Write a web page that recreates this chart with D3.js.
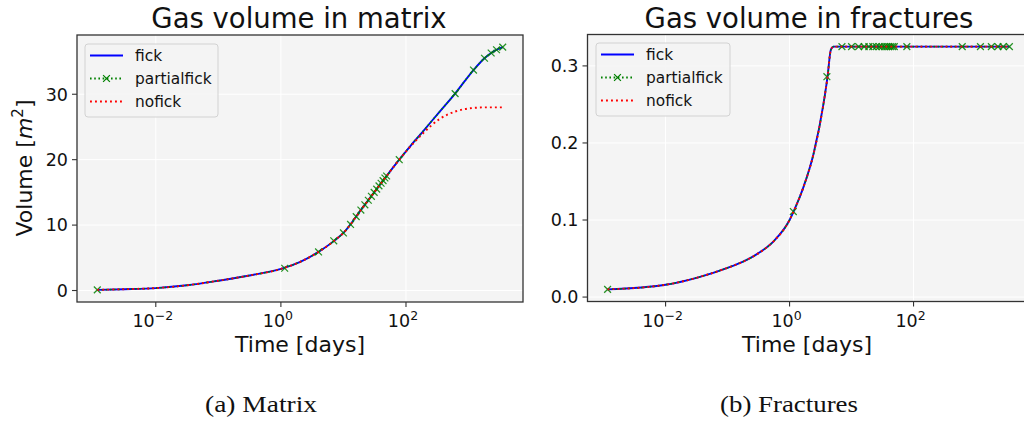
<!DOCTYPE html>
<html><head><meta charset="utf-8">
<script src="https://cdn.jsdelivr.net/npm/d3@7"></script>
<style>body{margin:0;background:#fff}svg{display:block}</style>
</head><body><svg id="c" width="1024" height="422"></svg>
<script>
// ---------- data (time in days) ----------
const matrixFickT   = [0.00116, 0.00316, 0.01, 0.0316, 0.1, 0.316, 1, 2, 4, 7, 10, 20, 40, 78, 120, 186, 343, 610, 1200, 1800, 2300, 2800, 3520];
const matrixFickV   = [0.1, 0.2, 0.37, 0.8, 1.5, 2.3, 3.3, 4.35, 5.9, 7.55, 8.8, 12.6, 16.4, 20.0, 22.2, 24.3, 27.3, 30.1, 33.7, 35.5, 36.3, 36.8, 37.2];
const matrixNofickT = [0.00116, 0.00316, 0.01, 0.0316, 0.1, 0.316, 1, 2, 4, 7, 10, 20, 40, 78, 120, 186, 343, 631, 1175, 2000, 3520];
const matrixNofickV = [0.1, 0.2, 0.37, 0.8, 1.5, 2.3, 3.3, 4.35, 5.9, 7.55, 8.8, 12.6, 16.4, 20.0, 22.1, 24.0, 26.2, 27.4, 27.9, 28.0, 28.0];
const partialT      = [0.00116, 1.15, 4, 7, 10, 13, 16, 19, 22, 25, 28, 31, 34, 37, 40, 43, 46, 49, 78, 610, 1200, 1800, 2300, 2800, 3520];
const matrixPartialV= [0.1, 3.4, 5.9, 7.6, 8.8, 10.1, 11.3, 12.3, 13.1, 13.8, 14.4, 15.0, 15.5, 16.0, 16.4, 16.8, 17.2, 17.5, 20.0, 30.1, 33.7, 35.5, 36.3, 36.8, 37.2];

const fracFickT     = [0.00116, 0.01, 0.0316, 0.1, 0.178, 0.316, 0.562, 1, 1.16, 1.68, 2.44, 3.53, 4.1, 4.64, 5.13, 7, 3520];
const fracFickV     = [0.010, 0.016, 0.025, 0.038, 0.046, 0.057, 0.073, 0.100, 0.111, 0.143, 0.186, 0.251, 0.286, 0.321, 0.325, 0.325, 0.325];
const fracNofickT   = [0.00116, 0.01, 0.0316, 0.1, 0.178, 0.316, 0.562, 1, 1.16, 1.68, 2.44, 3.53, 4.1, 4.64, 5.13, 7, 3520];
const fracNofickV   = [0.010, 0.016, 0.025, 0.038, 0.046, 0.057, 0.073, 0.100, 0.111, 0.143, 0.186, 0.251, 0.286, 0.321, 0.325, 0.325, 0.325];
const fracPartialV  = [0.010, 0.111, 0.286, 0.325, 0.325, 0.325, 0.325, 0.325, 0.325, 0.325, 0.325, 0.325, 0.325, 0.325, 0.325, 0.325, 0.325, 0.325, 0.325, 0.325, 0.325, 0.325, 0.325, 0.325, 0.325];

const xTicks = [0.01, 1, 100];
const xTickExp = ["\u22122", "0", "2"];
const matrixYTicks = [0, 10, 20, 30];
const matrixYLabels = ["0", "10", "20", "30"];
const fracYTicks = [0, 0.1, 0.2, 0.3];
const fracYLabels = ["0.0", "0.1", "0.2", "0.3"];
const seriesNames = ["fick", "partialfick", "nofick"];
const titles = ["Gas volume in matrix", "Gas volume in fractures"];
const captions = ["(a) Matrix", "(b) Fractures"];

// ---------- drawing ----------
const svg = d3.select("#c");
const FONT = "'DejaVu Sans', sans-serif";
const zip = (t, v) => t.map((d, i) => ({t: d, v: v[i]}));

function pad(ext, log) {
  if (log) { const a = Math.log10(ext[0]), b = Math.log10(ext[1]), p = (b - a) * 0.05; return [Math.pow(10, a - p), Math.pow(10, b + p)]; }
  const p = (ext[1] - ext[0]) * 0.05; return [ext[0] - p, ext[1] + p];
}

function panel(cfg, idx) {
  const {x0, x1, y0, y1} = cfg;
  const allT = cfg.series.flatMap(s => s.t);
  const allV = cfg.series.flatMap(s => s.v);
  const x = d3.scaleLog().domain(pad(d3.extent(allT), true)).range([x0, x1]);
  const y = d3.scaleLinear().domain(pad(d3.extent(allV), false)).range([y1, y0]);
  const g = svg.append("g");
  const clipId = "clip" + idx;
  svg.append("clipPath").attr("id", clipId).append("rect")
    .attr("x", x0).attr("y", y0).attr("width", x1 - x0).attr("height", y1 - y0);

  g.append("rect").attr("x", x0).attr("y", y0).attr("width", x1 - x0).attr("height", y1 - y0).attr("fill", "#f4f4f4");
  g.selectAll(".gx").data(xTicks).join("line").attr("x1", d => x(d)).attr("x2", d => x(d))
    .attr("y1", y0).attr("y2", y1).attr("stroke", "#fff").attr("stroke-width", 1);
  g.selectAll(".gy").data(cfg.yTicks).join("line").attr("y1", d => y(d)).attr("y2", d => y(d))
    .attr("x1", x0).attr("x2", x1).attr("stroke", "#fff").attr("stroke-width", 1);

  const line = d3.line().x(d => x(d.t)).y(d => y(d.v)).curve(d3.curveMonotoneX);
  const plot = g.append("g").attr("clip-path", `url(#${clipId})`);
  plot.append("path").datum(zip(cfg.fickT, cfg.fickV)).attr("d", line)
    .attr("fill", "none").attr("stroke", "#0000ff").attr("stroke-width", 1.9);
  plot.append("path").datum(zip(cfg.fickT, cfg.fickV)).attr("d", line)
    .attr("fill", "none").attr("stroke", "#008000").attr("stroke-width", 1.6).attr("stroke-dasharray", "1.6,2.6");
  plot.selectAll(".mk").data(zip(partialT, cfg.partialV)).join("path")
    .attr("d", d => { const cx = x(d.t), cy = y(d.v), r = 3.4; return `M${cx-r},${cy-r}L${cx+r},${cy+r}M${cx-r},${cy+r}L${cx+r},${cy-r}`; })
    .attr("stroke", "#008000").attr("stroke-width", 1.25).attr("fill", "none").attr("opacity", 0.85);
  plot.append("path").datum(zip(cfg.nofickT, cfg.nofickV)).attr("d", line)
    .attr("fill", "none").attr("stroke", "#ff0000").attr("stroke-width", 1.9).attr("stroke-dasharray", "1.9,3.1");

  g.append("rect").attr("x", x0).attr("y", y0).attr("width", x1 - x0).attr("height", y1 - y0)
    .attr("fill", "none").attr("stroke", "#333").attr("stroke-width", 1.3);

  const xt = g.selectAll(".xt").data(xTicks).join("g");
  xt.append("line").attr("x1", d => x(d)).attr("x2", d => x(d)).attr("y1", y1).attr("y2", y1 + 5).attr("stroke", "#333").attr("stroke-width", 1.1);
  const xtxt = xt.append("text").attr("x", d => x(d) - 3).attr("y", y1 + 25).attr("text-anchor", "middle")
    .attr("font-family", FONT).attr("font-size", 17.5).attr("fill", "#111");
  xtxt.append("tspan").text("10");
  xtxt.append("tspan").attr("dy", -7).attr("font-size", 12.5).text((d, i) => xTickExp[i]);

  const yt = g.selectAll(".yt").data(cfg.yTicks).join("g");
  yt.append("line").attr("x1", x0 - 5).attr("x2", x0).attr("y1", d => y(d)).attr("y2", d => y(d)).attr("stroke", "#333").attr("stroke-width", 1.1);
  yt.append("text").attr("x", x0 - 9).attr("y", d => y(d) + 6.3).attr("text-anchor", "end")
    .attr("font-family", FONT).attr("font-size", 17.5).attr("fill", "#111").text((d, i) => cfg.yLabels[i]);

  svg.append("text").attr("x", cfg.titleX).attr("y", 28).attr("text-anchor", "middle")
    .attr("font-family", FONT).attr("font-size", 27.5).attr("fill", "#111").text(titles[idx]);
  svg.append("text").attr("x", cfg.xlabelX).attr("y", 352).attr("text-anchor", "middle")
    .attr("font-family", FONT).attr("font-size", 22).attr("fill", "#111").text("Time [days]");

  const L = cfg.legend;
  const lg = svg.append("g");
  lg.append("rect").attr("x", L.x).attr("y", L.y).attr("width", L.w).attr("height", L.h).attr("rx", 3)
    .attr("fill", "#f4f4f4").attr("fill-opacity", 0.9).attr("stroke", "#d2d2d2").attr("stroke-width", 1);
  const rows = [
    {stroke: "#0000ff", dash: null, marker: false},
    {stroke: "#008000", dash: "1.6,2.6", marker: true},
    {stroke: "#ff0000", dash: "1.9,3.1", marker: false}
  ];
  rows.forEach((r, i) => {
    const yy = L.y + 11.5 + i * 23;
    const lx0 = L.x + 5, lx1 = L.x + 38;
    lg.append("line").attr("x1", lx0).attr("x2", lx1).attr("y1", yy).attr("y2", yy)
      .attr("stroke", r.stroke).attr("stroke-width", 1.9).attr("stroke-dasharray", r.dash);
    if (r.marker) {
      const cx = (lx0 + lx1) / 2, rr = 3.4;
      lg.append("path").attr("d", `M${cx-rr},${yy-rr}L${cx+rr},${yy+rr}M${cx-rr},${yy+rr}L${cx+rr},${yy-rr}`)
        .attr("stroke", "#008000").attr("stroke-width", 1.25);
    }
    lg.append("text").attr("x", L.x + 50).attr("y", yy + 5.5).attr("font-family", FONT).attr("font-size", 15.4)
      .attr("fill", "#111").text(seriesNames[i]);
  });

  svg.append("text").attr("x", cfg.capX).attr("y", 412).attr("font-family", "'Liberation Serif', serif")
    .attr("font-size", 23).attr("fill", "#111").attr("textLength", cfg.capW).attr("lengthAdjust", "spacingAndGlyphs")
    .text(captions[idx]);
}

panel({
  x0: 77, x1: 523, y0: 35, y1: 302,
  series: [{t: matrixFickT, v: matrixFickV}, {t: matrixNofickT, v: matrixNofickV}, {t: partialT, v: matrixPartialV}],
  fickT: matrixFickT, fickV: matrixFickV, nofickT: matrixNofickT, nofickV: matrixNofickV, partialV: matrixPartialV,
  yTicks: matrixYTicks, yLabels: matrixYLabels,
  titleX: 299, xlabelX: 300,
  legend: {x: 85, y: 44, w: 133, h: 73},
  capX: 205, capW: 112
}, 0);

panel({
  x0: 587.5, x1: 1029.5, y0: 34.5, y1: 301.5,
  series: [{t: fracFickT, v: fracFickV}, {t: fracNofickT, v: fracNofickV}, {t: partialT, v: fracPartialV}],
  fickT: fracFickT, fickV: fracFickV, nofickT: fracNofickT, nofickV: fracNofickV, partialV: fracPartialV,
  yTicks: fracYTicks, yLabels: fracYLabels,
  titleX: 809, xlabelX: 807,
  legend: {x: 596, y: 43, w: 134, h: 73},
  capX: 720, capW: 138
}, 1);

const yl = svg.append("text").attr("transform", "translate(32,168) rotate(-90)").attr("text-anchor", "middle")
  .attr("font-family", FONT).attr("font-size", 22).attr("fill", "#111");
yl.append("tspan").text("Volume [");
yl.append("tspan").attr("font-style", "italic").text("m");
yl.append("tspan").attr("dy", -9).attr("font-size", 15).text("2");
yl.append("tspan").attr("dy", 9).text("]");
</script>
</body></html>
